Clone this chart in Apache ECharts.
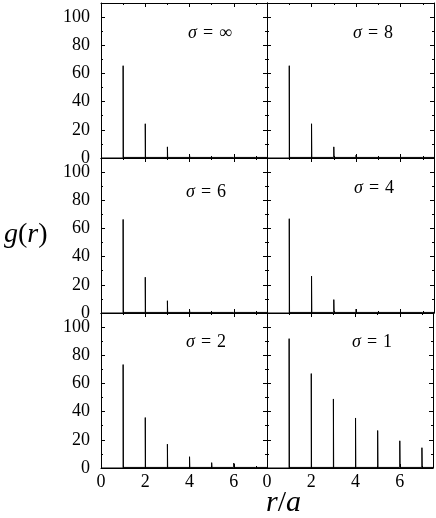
<!DOCTYPE html>
<html lang="en">
<head>
    <meta charset="UTF-8">
    <title>g(r)</title>
    <script src="https://cdn.jsdelivr.net/npm/echarts@6/dist/echarts.min.js"></script>
    <style>
        html, body { margin: 0; padding: 0; background: #fff; }
        #chart { width: 436px; height: 518px; }
    </style>
</head>
<body>
<div id="chart"></div>
<script>
    // 数据：各 sigma 下 g(r) 在 r = 1..7 的峰高
    var sigmaLabels = ['∞', '8', '6', '4', '2', '1'];
    var peakR = [1, 2, 3, 4, 5, 6, 7];
    var peaksInf = [65.5, 24.3, 7.9, 2.0, 1.0, 0.8, 0.7];
    var peaks8 = [65.5, 24.3, 7.9, 2.0, 1.0, 0.8, 0.7];
    var peaks6 = [66.4, 25.4, 8.7, 2.2, 1.1, 0.8, 0.7];
    var peaks4 = [66.9, 26.2, 9.5, 2.7, 1.2, 0.9, 0.8];
    var peaks2 = [73.4, 35.8, 16.9, 8.0, 3.8, 3.5, 1.5];
    var peaks1 = [91.8, 67.0, 49.0, 35.5, 26.6, 19.3, 14.4];
    var baseLevel = 0.4;   // 峰之间的本底
    var xTicks = [0, 2, 4, 6];
    var yTicks = [0, 20, 40, 60, 80, 100];

    var allPeaks = [peaksInf, peaks8, peaks6, peaks4, peaks2, peaks1];
    var serif = '"Liberation Serif", "Times New Roman", serif';

    // 面板位置
    var colLeft = [101, 267], colWidth = [166, 167];
    var rowTop = [3, 158, 313], rowHeight = 155;
    // 标注位置
    var labelPos = [[188, 24], [353, 24], [186, 183], [354, 179], [186, 333], [352, 333]];

    function spikeData(h) {
        var d = [[0, 0], [peakR[0], 0]];
        for (var i = 0; i < h.length; i++) {
            d.push([peakR[i], h[i]]);
            d.push([peakR[i] + 0.012, baseLevel]);
            if (i + 1 < h.length) d.push([peakR[i + 1], baseLevel]);
        }
        d.push([7.5, baseLevel]);
        return d;
    }

    var grids = [], xAxes = [], yAxes = [], series = [], titles = [];

    for (var g = 0; g < 6; g++) {
        var row = Math.floor(g / 2), col = g % 2;
        grids.push({left: colLeft[col], top: rowTop[row], width: colWidth[col], height: rowHeight, containLabel: false});

        // x 轴：下/上 各一条主刻度、一条次刻度
        ['bottom', 'top'].forEach(function (pos) {
            [2, 1].forEach(function (iv) {
                var major = iv === 2;
                xAxes.push({
                    type: 'value', gridIndex: g, position: pos, min: 0, max: 7.5, interval: iv,
                    axisLine: {show: major, onZero: false, lineStyle: {color: '#000', width: 1}},
                    axisTick: {show: true, inside: true, length: major ? 4 : 2, lineStyle: {color: '#000', width: 1}},
                    axisLabel: {
                        show: major && pos === 'bottom' && row === 2, margin: 5,
                        fontFamily: serif, fontSize: 18, color: '#000',
                        formatter: function (v) { return xTicks.indexOf(v) >= 0 ? String(v) : ''; }
                    },
                    splitLine: {show: false}
                });
            });
        });
        // y 轴：左/右
        ['left', 'right'].forEach(function (pos) {
            [20, 10].forEach(function (iv) {
                var major = iv === 20;
                yAxes.push({
                    type: 'value', gridIndex: g, position: pos, min: 0, max: 110, interval: iv,
                    axisLine: {show: major, onZero: false, lineStyle: {color: '#000', width: 1}},
                    axisTick: {show: true, inside: true, length: major ? 4 : 2, lineStyle: {color: '#000', width: 1}},
                    axisLabel: {
                        show: major && pos === 'left' && col === 0, margin: 11,
                        fontFamily: serif, fontSize: 18, color: '#000',
                        formatter: function (v) { return yTicks.indexOf(v) >= 0 ? String(v) : ''; }
                    },
                    splitLine: {show: false}
                });
            });
        });

        series.push({
            type: 'line', xAxisIndex: g * 4, yAxisIndex: g * 4,
            data: spikeData(allPeaks[g]), showSymbol: false, clip: true,
            lineStyle: {color: '#000', width: 1}, silent: true
        });

        titles.push({
            text: '{i|σ}{e|=}' + sigmaLabels[g],
            left: labelPos[g][0], top: labelPos[g][1], padding: 0,
            textStyle: {
                fontFamily: serif, fontSize: 18, fontWeight: 'normal', color: '#000',
                rich: {
                    i: {fontFamily: serif, fontSize: 18, fontStyle: 'italic', color: '#000'},
                    e: {fontFamily: serif, fontSize: 18, color: '#000', padding: [0, 6, 0, 6]}
                }
            }
        });
    }

    // 坐标轴名称
    titles.push({
        text: '{i|g}({i|r})', left: 4, top: 221, padding: 0,
        textStyle: {fontFamily: serif, fontSize: 28, fontWeight: 'normal', color: '#000',
            rich: {i: {fontFamily: serif, fontSize: 28, fontStyle: 'italic', color: '#000'}}}
    });
    titles.push({
        text: '{i|r}/{i|a}', left: 266, top: 488, padding: 0,
        textStyle: {fontFamily: serif, fontSize: 30, fontWeight: 'normal', color: '#000',
            rich: {i: {fontFamily: serif, fontSize: 30, fontStyle: 'italic', color: '#000'}}}
    });

    var myChart = echarts.init(document.getElementById('chart'));
    myChart.setOption({
        animation: false,
        title: titles,
        grid: grids,
        xAxis: xAxes,
        yAxis: yAxes,
        series: series
    });
</script>
</body>
</html>
